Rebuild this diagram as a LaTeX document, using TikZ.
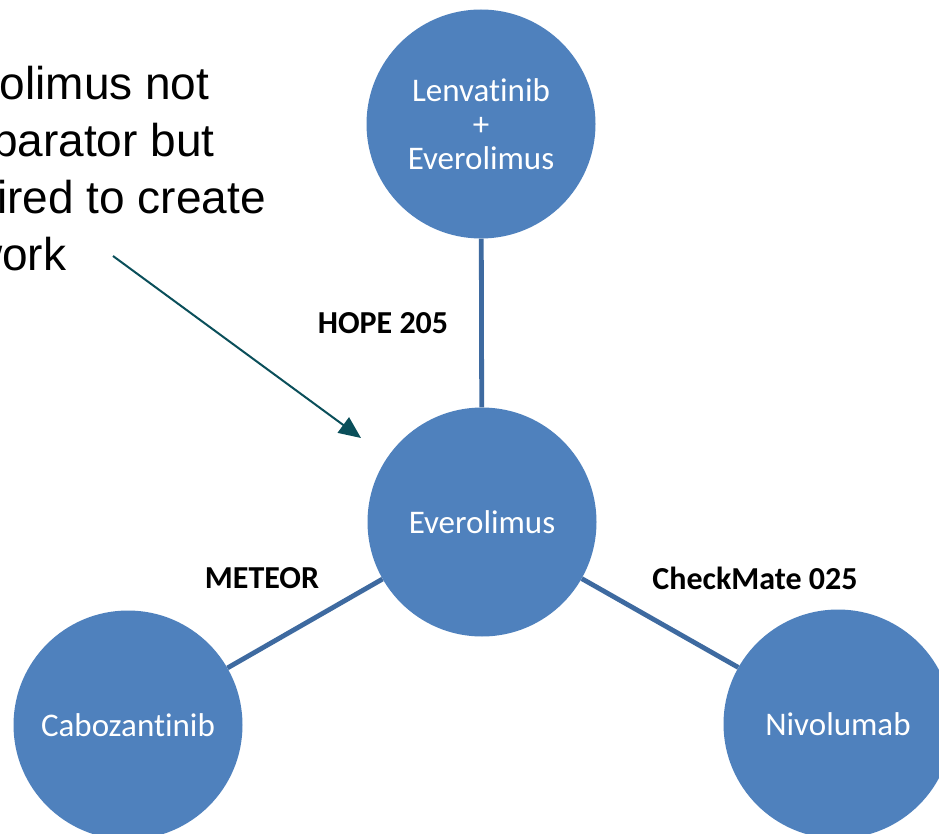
\documentclass[tikz,border=0pt]{standalone}
\usepackage{fontspec}
\setmainfont{Carlito}[Ligatures=NoCommon]
\newfontfamily\notefont{Liberation Sans}
\usetikzlibrary{arrows.meta}
\definecolor{nodeblue}{HTML}{4F81BD}
\definecolor{edgeblue}{RGB}{62,106,160}
\definecolor{arrowteal}{RGB}{10,79,90}
\tikzset{
  drug/.style={circle, fill=nodeblue, draw=none, minimum size=229pt, inner sep=0pt,
    text=white, align=center, font=\fontsize{33}{34}\selectfont},
  trial/.style={font=\fontsize{32}{34}\selectfont\bfseries, text=black, inner sep=0pt},
  link/.style={draw=edgeblue, line width=4.8pt},
  pointer/.style={draw=arrowteal, line width=2pt, -{Triangle[length=22pt,width=19pt]}},
  note/.style={font=\notefont\fontsize{46}{57}\selectfont, align=left, inner sep=0pt, text=black}
}
\begin{document}
\begin{tikzpicture}[x=1pt,y=-1pt]
\useasboundingbox (0,0) rectangle (939,834);
\clip (0,0) rectangle (939,834);
\fill[white] (0,0) rectangle (939,834);
\node[drug] (lenv) at (481,124) {Lenvatinib\\+\\Everolimus};
\node[drug] (ever) at (482,522) {Everolimus};
\node[drug] (cabo) at (128,725) {Cabozantinib};
\node[drug] (nivo) at (838,724) {Nivolumab};
\draw[link] (lenv) -- (ever);
\draw[link] (ever) -- (cabo);
\draw[link] (ever) -- (nivo);
\node[trial] (hope) at (383,323) {HOPE 205};
\node[trial] (meteor) at (262,578) {METEOR};
\node[trial] (checkmate) at (755,578) {CheckMate 025};
\node[note, anchor=north west] (remark) at (-95,66) {Everolimus not\\comparator but\\required to create\\network};
\coordinate (tailpt) at (113,256);
\coordinate (tippt) at (361,438);
\draw[pointer] (tailpt) -- (tippt);
\end{tikzpicture}
\end{document}
